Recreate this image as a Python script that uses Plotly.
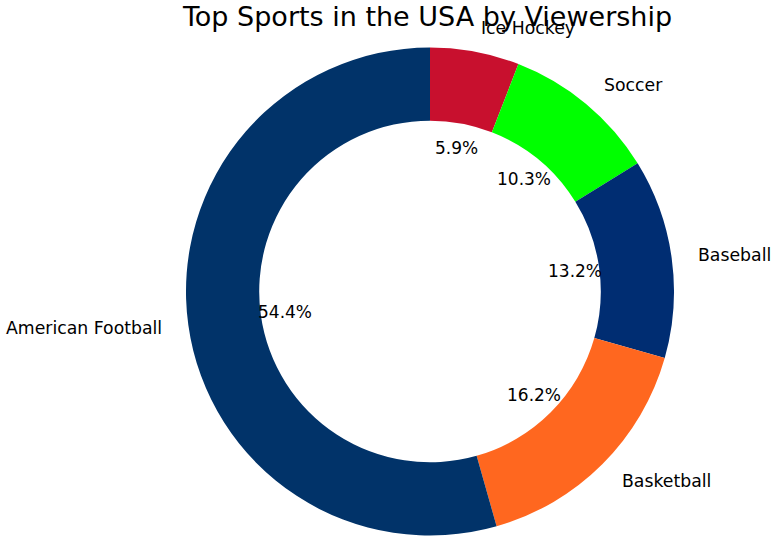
import math
import plotly.graph_objects as go

sports = ["American Football", "Basketball", "Baseball", "Soccer", "Ice Hockey"]
share = [54.4, 16.2, 13.2, 10.3, 5.9]
colors = ["#013369", "#FF671F", "#002D72", "#00FF00", "#C8102E"]

W, H = 774, 540
ML, MR, MT, MB = 186, 100, 47, 4
pw, ph = W - ML - MR, H - MT - MB
R = min(pw, ph) / 2.0
FONT = "DejaVu Sans"

# slices run counterclockwise from 12 o'clock in data order; plotly draws
# clockwise from 12 o'clock, so feed the reversed order
fig = go.Figure(go.Pie(
    labels=sports[::-1], values=share[::-1], hole=0.7, sort=False,
    direction="clockwise", rotation=0,
    marker=dict(colors=colors[::-1], line=dict(width=0)),
    textinfo="none", hoverinfo="label+percent", showlegend=False,
))

total = sum(share)
start = 90.0
annotations = []
for name, v in zip(sports, share):
    span = v / total * 360.0
    mid = math.radians(start + span / 2.0)
    start += span
    c, s = math.cos(mid), math.sin(mid)
    # outer label at 1.1 radius
    lx = 0.5 + 1.1 * R * c / pw
    ly = 0.5 + 1.1 * R * s / ph
    annotations.append(dict(
        x=lx, y=ly, xref="paper", yref="paper", text=name, showarrow=False,
        xanchor="left" if c > 0 else "right", yanchor="middle",
        font=dict(family=FONT, size=17.3, color="#000000")))
    # percentage at 0.6 radius
    px = 0.5 + 0.6 * R * c / pw
    py = 0.5 + 0.6 * R * s / ph
    annotations.append(dict(
        x=px, y=py, xref="paper", yref="paper", text=f"{v / total * 100:.1f}%",
        showarrow=False, xanchor="center", yanchor="middle",
        font=dict(family=FONT, size=17, color="#000000")))

fig.update_layout(
    width=W, height=H,
    margin=dict(l=ML, r=MR, t=MT, b=MB, autoexpand=False),
    paper_bgcolor="white", plot_bgcolor="white",
    title=dict(text="Top Sports in the USA by Viewership",
               font=dict(family=FONT, size=27, color="#000000"),
               x=(427.5 / W), xanchor="center",
               y=1 - 17 / H, yanchor="middle", yref="container"),
    annotations=annotations,
)

fig.write_html("out.html")
